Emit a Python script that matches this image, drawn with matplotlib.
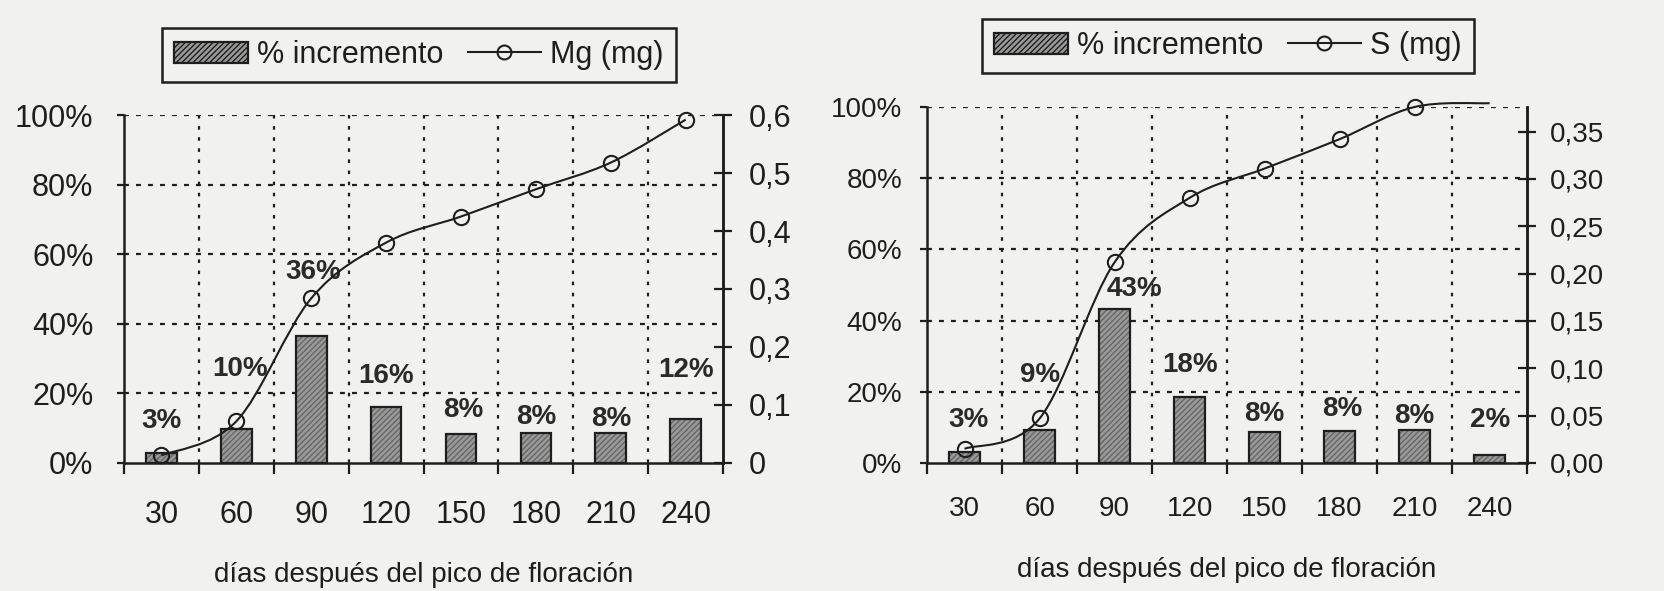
import matplotlib
matplotlib.use("Agg")
import matplotlib.pyplot as plt
from matplotlib.path import Path
from matplotlib.patches import PathPatch, Patch
from matplotlib.lines import Line2D
from matplotlib.ticker import FixedLocator, FuncFormatter
import numpy as np

plt.rcParams['font.family'] = ['Liberation Sans', 'DejaVu Sans']

# Data
dias = ['30', '60', '90', '120', '150', '180', '210', '240']

inc_mg = [2.8, 9.8, 36.4, 16.2, 8.4, 8.7, 8.7, 12.5]
inc_mg_labels = ['3%', '10%', '36%', '16%', '8%', '8%', '8%', '12%']
mg = [0.013, 0.072, 0.284, 0.380, 0.425, 0.472, 0.518, 0.592]

inc_s = [3.0, 9.3, 43.3, 18.5, 8.6, 8.9, 9.2, 2.3]
inc_s_labels = ['3%', '9%', '43%', '18%', '8%', '8%', '8%', '2%']
s = [0.015, 0.047, 0.212, 0.280, 0.311, 0.342, 0.376, 0.380]

# label placement (layout only)
mg_lab_y = [12, 27, 55, 25, 15.2, 13.3, 12.5, 26.6]
mg_lab_dx = [0, 0.05, 0.03, 0, 0.03, 0, 0, 0]
s_lab_y = [12.1, 24.7, 49, 27.4, 13.7, 15.3, 13.2, 12.1]
s_lab_dx = [0.05, 0, 0.27, 0, 0, 0.03, 0, 0]

BG = '#f1f1ef'
INK = '#1e1e1e'


def smooth_path(x, y):
    # Excel-like smoothed line drawn as cubic Bezier segments
    pts = np.column_stack([x, y])
    n = len(pts)
    verts = [pts[0]]
    codes = [Path.MOVETO]
    for i in range(n - 1):
        p0 = pts[i - 1] if i > 0 else pts[i]
        p1 = pts[i]
        p2 = pts[i + 1]
        p3 = pts[i + 2] if i + 2 < n else pts[i + 1]
        c1 = p1 + (p2 - p0) / 6.0
        c2 = p2 - (p3 - p1) / 6.0
        verts += [c1, c2, p2]
        codes += [Path.CURVE4] * 3
    return Path(verts, codes)


def draw_panel(fig, rect, inc, inc_labels, lab_y, lab_dx, line, ymax2,
               ticks2, fmt2, name, leg_anchor, fs, ylpad, y2pad, xpad,
               xlpad, marks):
    ax = fig.add_axes(rect)
    ax.set_facecolor(BG)
    x = np.arange(len(dias))

    # bars: hatched fill + black outline
    ax.bar(x, inc, width=0.41, color='#9a9a9a', hatch='//////',
           edgecolor='#666666', linewidth=0, zorder=2)
    ax.bar(x, inc, width=0.41, color='none', edgecolor=INK,
           linewidth=1.6, zorder=3)

    for xi, ly, dx, t in zip(x, lab_y, lab_dx, inc_labels):
        ax.text(xi + dx, ly, t, ha='center', va='center', fontsize=20,
                fontweight='bold', color='#2a2a2a', zorder=5)

    ax.set_xlim(-0.5, len(dias) - 0.5)
    ax.set_ylim(0, 100)

    # grid
    for gy in [20, 40, 60, 80, 100]:
        ax.axhline(gy, color=INK, lw=1.6, ls=(0, (2.2, 3.2)), zorder=1)
    for gx in np.arange(0.5, len(dias) - 0.5, 1):
        ax.axvline(gx, color=INK, lw=1.6, ls=(0, (1.6, 3.4)), zorder=1)

    ax.spines['top'].set_visible(False)
    for sp in ['left', 'bottom', 'right']:
        ax.spines[sp].set_linewidth(1.8)
        ax.spines[sp].set_color(INK)

    ax.set_xticks(x)
    ax.set_xticklabels(dias)
    ax.xaxis.set_minor_locator(FixedLocator(np.arange(-0.5, len(dias), 1)))
    ax.tick_params(axis='x', which='major', length=0, pad=xpad,
                   labelsize=fs, labelcolor=INK)
    ax.tick_params(axis='x', which='minor', length=8, width=1.6,
                   direction='out', color=INK)

    ax.set_yticks([0, 20, 40, 60, 80, 100])
    ax.yaxis.set_major_formatter(FuncFormatter(lambda v, p: f'{int(v)}%'))
    ax.tick_params(axis='y', length=5, width=1.6, direction='out',
                   pad=ylpad, labelsize=fs, labelcolor=INK, color=INK)

    ax.set_xlabel('días después del pico de floración', fontsize=20,
                  color=INK, labelpad=xlpad)

    ax2 = ax.twinx()
    ax2.set_ylim(0, ymax2)
    ax2.set_yticks(ticks2)
    ax2.yaxis.set_major_formatter(FuncFormatter(fmt2))
    ax2.tick_params(axis='y', length=13, width=1.6, direction='inout',
                    pad=y2pad, labelsize=fs, labelcolor=INK, color=INK)
    for sp in ['top', 'left', 'bottom']:
        ax2.spines[sp].set_visible(False)
    ax2.spines['right'].set_linewidth(1.8)
    ax2.spines['right'].set_color(INK)

    patch = PathPatch(smooth_path(x, line), facecolor='none',
                      edgecolor=INK, lw=1.5, zorder=4, clip_on=False)
    ax2.add_patch(patch)
    ax2.plot(x[:marks], line[:marks], 'o', ms=11, mfc='none', mec=INK,
             mew=1.5, zorder=5, clip_on=False)

    handles = [Patch(facecolor='#9a9a9a', hatch='//////', edgecolor=INK,
                     linewidth=1.6),
               Line2D([], [], color=INK, lw=1.5, marker='o', ms=10,
                      mfc='none', mec=INK, mew=1.5)]
    leg = ax.legend(handles, ['% incremento', name], loc='center',
                    bbox_to_anchor=leg_anchor, ncol=2, fontsize=22,
                    frameon=True, fancybox=False, framealpha=1,
                    edgecolor=INK, facecolor=BG, handlelength=2.4,
                    handletextpad=0.3, columnspacing=0.8,
                    borderpad=0.4)
    leg.get_frame().set_linewidth(1.8)
    for t in leg.get_texts():
        t.set_color(INK)
    return ax


fig = plt.figure(figsize=(16.65, 5.91), dpi=100)
fig.patch.set_facecolor(BG)

draw_panel(fig, [0.0745, 0.2166, 0.3598, 0.5888], inc_mg, inc_mg_labels,
           mg_lab_y, mg_lab_dx, mg, 0.6,
           [0, 0.1, 0.2, 0.3, 0.4, 0.5, 0.6],
           lambda v, p: '0' if abs(v) < 1e-9 else f'{v:.1f}'.replace('.', ','),
           'Mg (mg)', (0.4925, 1.172), 22, 17, 12, 27, 23, 8)

draw_panel(fig, [0.5568, 0.2166, 0.3604, 0.6024], inc_s, inc_s_labels,
           s_lab_y, s_lab_dx, s, 0.376,
           [0, 0.05, 0.10, 0.15, 0.20, 0.25, 0.30, 0.35],
           lambda v, p: f'{v:.2f}'.replace('.', ','),
           'S (mg)', (0.5017, 1.171), 20, 13, 10, 24, 25, 7)

fig.savefig('out.png', dpi=100, facecolor=BG)
